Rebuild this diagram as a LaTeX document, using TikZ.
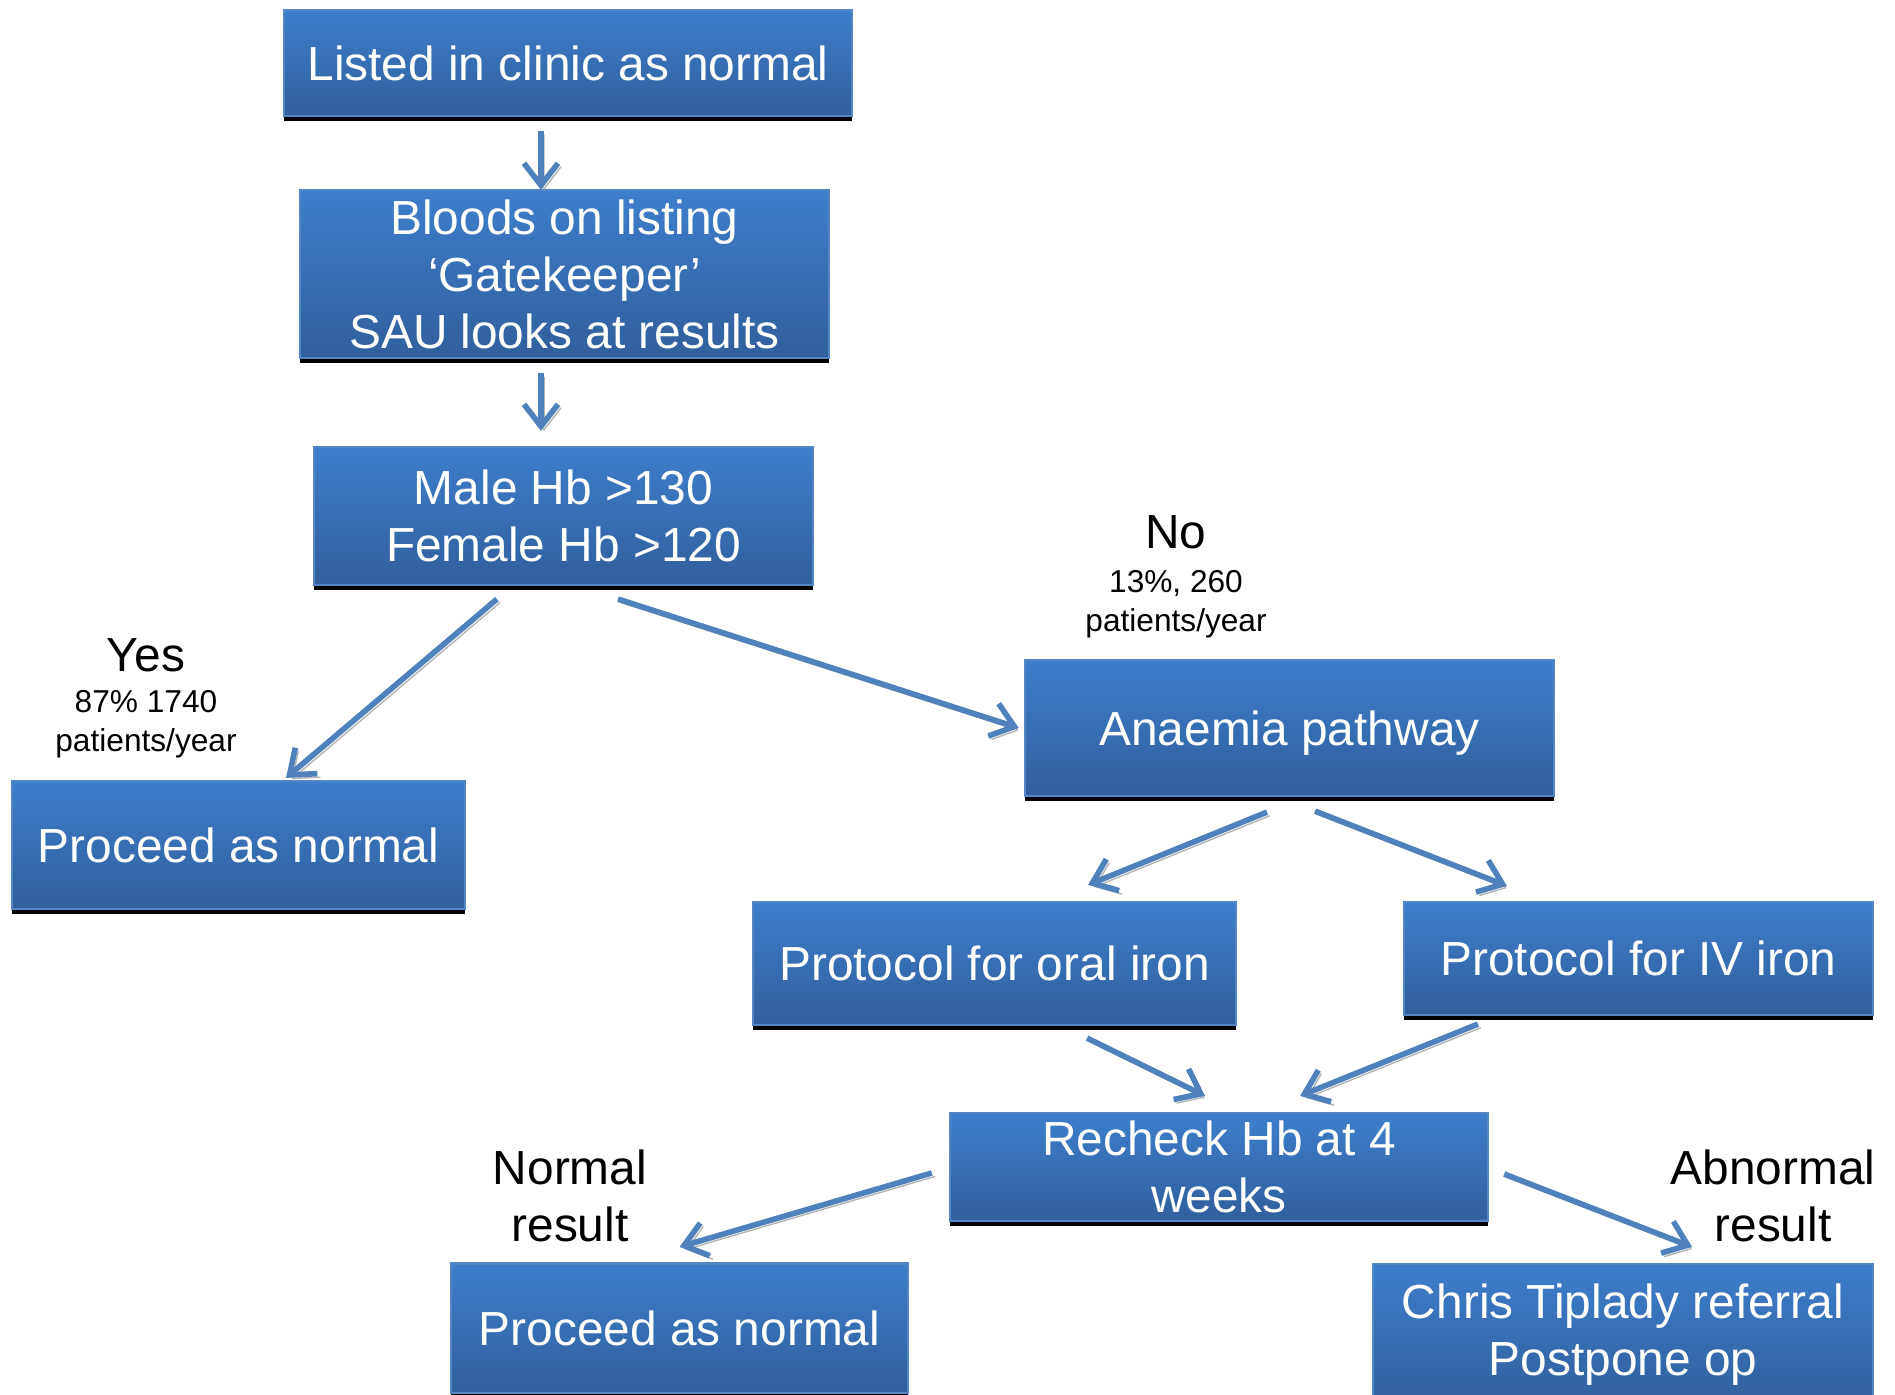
\documentclass[tikz,border=0pt]{standalone}
\usepackage{fontspec}
\setmainfont{Liberation Sans}
\usepackage{tikz}
\usetikzlibrary{positioning,arrows.meta,shadows}

\definecolor{boxtop}{RGB}{61,126,203}
\definecolor{boxbot}{RGB}{48,95,157}
\definecolor{boxline}{RGB}{84,134,196}
\definecolor{arrblue}{RGB}{79,129,189}
\definecolor{arrshade}{RGB}{180,180,180}

\newcommand{\bigtxt}{\fontsize{13.6}{16.2}\selectfont}
\newcommand{\smalltxt}{\fontsize{9}{11}\selectfont}

\begin{document}
\begin{tikzpicture}[x=0.01cm,y=-0.01cm,
    box/.style={draw=boxline,line width=0.6pt,top color=boxtop,bottom color=boxbot,
        text=white,align=center,inner sep=0pt,font=\bigtxt,
        general shadow={fill=black,shadow xshift=0pt,shadow yshift=-0.045cm}},
    lbl/.style={align=center,inner sep=0pt,font=\bigtxt},
    info/.style={align=center,inner sep=0pt,font=\smalltxt},
    arr/.style={draw=arrblue,line width=1.6pt,
        -{Straight Barb[length=2.2mm,width=3.4mm]},
        preaction={draw=arrshade,transform canvas={shift={(0.03cm,-0.035cm)}}}}]
    \useasboundingbox (0,0) rectangle (1895,1394);
                % boxes
                \node[box,minimum width=5.68cm,minimum height=1.06cm] (listed) at (568,63) {Listed in clinic as normal};
                \node[box,minimum width=5.29cm,minimum height=1.68cm] (bloods) at (564.5,274) {Bloods on listing\\`Gatekeeper'\\SAU looks at results};
                \node[box,minimum width=4.99cm,minimum height=1.38cm] (male) at (563.5,516) {Male Hb >130\\Female Hb >120};
                \node[box,minimum width=4.53cm,minimum height=1.28cm] (procA) at (238.5,845) {Proceed as normal};
                \node[box,minimum width=5.29cm,minimum height=1.36cm,text depth=0pt] (anaemia) at (1289.5,728) {Anaemia pathway};
                \node[box,minimum width=4.83cm,minimum height=1.23cm] (oral) at (994.5,963.5) {Protocol for oral iron};
                \node[box,minimum width=4.69cm,minimum height=1.13cm] (iv) at (1638.5,958.5) {Protocol for IV iron};
                \node[box,minimum width=5.38cm,minimum height=1.08cm] (recheck) at (1219,1167) {Recheck Hb at 4\\weeks};
                \node[box,minimum width=4.57cm,minimum height=1.29cm] (procB) at (679.5,1328) {Proceed as normal};
                \node[box,minimum width=5.00cm,minimum height=1.42cm] (chris) at (1623,1335) {Chris Tiplady referral\\Postpone op};
                % labels
                \node[lbl] (yes) at (146,655) {Yes};
                \node[info] (yesnum) at (146,724) {87\% 1740\\patients/year};
                \node[lbl] (no) at (1176,532) {No};
                \node[info] (nonum) at (1176,604) {13\%, 260\\patients/year};
                \node[lbl] (normal) at (570,1196) {Normal\\result};
                \node[lbl] (abnormal) at (1773,1196) {Abnormal\\result};
                % connectors
                \draw[arr] ([xshift=-0.27cm,yshift=-0.14cm]listed.south) -- ([xshift=-0.235cm,yshift=-0.01cm]bloods.north);
                \draw[arr] ([xshift=-0.235cm,yshift=-0.14cm]bloods.south) -- ([xshift=-0.225cm,yshift=0.15cm]male.north);
                \draw[arr] ([xshift=-0.665cm,yshift=-0.13cm]male.south) -- ([xshift=0.475cm,yshift=0.02cm]procA.north);
                \draw[arr] ([xshift=0.545cm,yshift=-0.13cm]male.south) -- ([xshift=-0.05cm]anaemia.west);
                \draw[arr] ([xshift=-0.225cm,yshift=-0.15cm]anaemia.south) -- ([xshift=0.935cm,yshift=0.16cm]oral.north);
                \draw[arr] ([xshift=0.255cm,yshift=-0.14cm]anaemia.south) -- ([xshift=-1.315cm,yshift=0.15cm]iv.north);
                \draw[arr] ([xshift=0.925cm,yshift=-0.12cm]oral.south) -- ([xshift=-0.14cm,yshift=0.16cm]recheck.north);
                \draw[arr] ([xshift=-1.605cm,yshift=-0.08cm]iv.south) -- ([xshift=0.81cm,yshift=0.16cm]recheck.north);
                \draw[arr] ([xshift=-0.17cm,yshift=-0.06cm]recheck.west) -- ([yshift=0.155cm]procB.north);
                \draw[arr] ([xshift=0.15cm,yshift=-0.07cm]recheck.east) -- ([xshift=0.69cm,yshift=0.16cm]chris.north);
            \end{tikzpicture}
\end{document}
